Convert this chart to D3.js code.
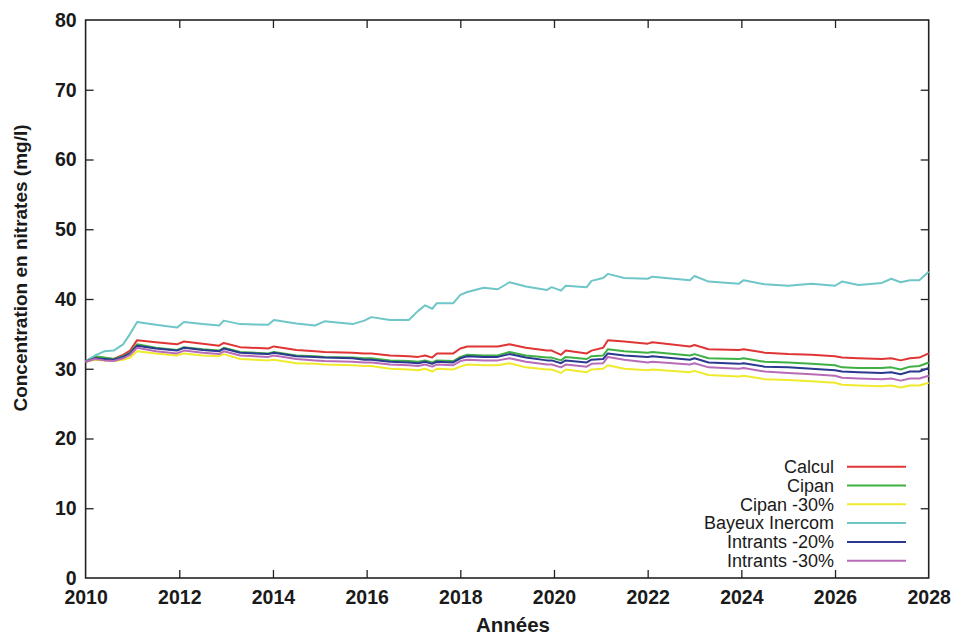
<!DOCTYPE html>
<html><head><meta charset="utf-8">
<script src="https://cdn.jsdelivr.net/npm/d3@7"></script>
<style>body{margin:0;background:#fff;} svg{display:block;}</style>
</head><body>
<script>
const years = [2010.0,2010.2,2010.4,2010.6,2010.8,2010.95,2011.1,2011.5,2011.95,2012.1,2012.5,2012.85,2012.95,2013.3,2013.9,2014.02,2014.5,2014.9,2015.1,2015.7,2015.95,2016.1,2016.5,2016.9,2017.1,2017.25,2017.4,2017.5,2017.85,2018.0,2018.15,2018.5,2018.8,2019.05,2019.4,2019.85,2019.95,2020.15,2020.25,2020.7,2020.8,2021.05,2021.15,2021.5,2022.0,2022.1,2022.9,2023.0,2023.3,2023.95,2024.05,2024.5,2025.0,2025.5,2026.0,2026.15,2026.5,2027.0,2027.2,2027.4,2027.6,2027.8,2028.0];

const calcul = [31.0,31.6,31.5,31.4,32.0,32.6,34.1,33.8,33.5,33.9,33.6,33.3,33.7,33.1,32.9,33.2,32.7,32.5,32.4,32.3,32.2,32.2,31.9,31.8,31.7,31.9,31.6,32.2,32.2,32.9,33.2,33.2,33.2,33.5,33.0,32.6,32.6,32.0,32.6,32.2,32.6,33.0,34.1,33.9,33.6,33.8,33.2,33.4,32.8,32.7,32.8,32.3,32.1,32.0,31.8,31.6,31.5,31.4,31.5,31.2,31.5,31.6,32.2];
const cipan = [31.1,31.8,31.6,31.4,31.8,32.3,33.5,33.0,32.7,33.1,32.8,32.6,33.0,32.4,32.2,32.4,31.9,31.8,31.7,31.6,31.5,31.5,31.2,31.1,31.0,31.2,30.9,31.2,31.1,31.7,32.0,31.9,31.9,32.4,31.9,31.6,31.6,31.2,31.7,31.4,31.8,31.9,32.8,32.5,32.3,32.4,31.9,32.1,31.5,31.4,31.5,31.0,30.9,30.7,30.5,30.2,30.1,30.1,30.2,29.9,30.3,30.4,30.9];
const cipan30 = [31.0,31.3,31.2,31.1,31.3,31.6,32.5,32.2,31.9,32.2,31.9,31.8,32.1,31.4,31.2,31.3,30.8,30.7,30.6,30.5,30.4,30.4,30.0,29.9,29.8,30.0,29.6,30.0,29.9,30.3,30.6,30.5,30.5,30.8,30.2,29.9,29.9,29.4,29.9,29.5,29.9,30.0,30.5,30.0,29.8,29.9,29.5,29.7,29.1,28.9,29.0,28.5,28.4,28.2,28.0,27.7,27.6,27.5,27.6,27.3,27.6,27.6,28.0];
const bayeux = [31.0,31.9,32.5,32.6,33.5,35.0,36.7,36.3,35.9,36.7,36.4,36.2,36.9,36.4,36.3,37.0,36.5,36.2,36.8,36.4,36.9,37.4,37.0,37.0,38.3,39.1,38.6,39.4,39.4,40.6,41.0,41.6,41.4,42.4,41.8,41.3,41.7,41.2,41.9,41.7,42.6,43.0,43.6,43.0,42.9,43.2,42.7,43.3,42.5,42.2,42.7,42.1,41.9,42.2,41.9,42.5,42.0,42.3,42.9,42.4,42.7,42.7,43.9];
const intrants20 = [31.0,31.5,31.4,31.3,31.7,32.2,33.3,32.9,32.6,33.0,32.7,32.5,32.9,32.3,32.1,32.3,31.8,31.7,31.6,31.5,31.3,31.3,31.0,30.9,30.8,31.0,30.7,31.0,30.9,31.5,31.8,31.7,31.7,32.1,31.6,31.2,31.2,30.8,31.2,30.9,31.3,31.4,32.2,31.9,31.7,31.8,31.3,31.5,30.9,30.7,30.8,30.3,30.2,30.0,29.8,29.6,29.5,29.4,29.5,29.2,29.6,29.6,30.1];
const intrants30 = [31.0,31.4,31.2,31.1,31.5,32.0,33.0,32.5,32.2,32.6,32.3,32.1,32.5,31.9,31.7,31.9,31.4,31.2,31.1,31.0,30.9,30.9,30.6,30.5,30.4,30.6,30.3,30.6,30.5,31.1,31.3,31.2,31.2,31.5,31.0,30.6,30.6,30.2,30.6,30.3,30.7,30.8,31.7,31.3,30.9,31.0,30.6,30.8,30.2,30.0,30.1,29.6,29.4,29.2,29.0,28.7,28.6,28.5,28.6,28.3,28.6,28.6,29.0];

const seriesNames = ["Calcul","Cipan","Cipan -30%","Bayeux Inercom","Intrants -20%","Intrants -30%"];
const seriesValues = [calcul, cipan, cipan30, bayeux, intrants20, intrants30];
const seriesColors = ["#e03535","#3fb043","#f0ea2c","#6fc6c8","#2b3990","#b86cb8"];
const xTicks = [2010,2012,2014,2016,2018,2020,2022,2024,2026,2028];
const yTicks = [0,10,20,30,40,50,60,70,80];

const W = 962, H = 637;
const m = {left:85.6, right:928.7, top:20, bottom:578};
const svg = d3.select("body").append("svg").attr("width",W).attr("height",H);

const x = d3.scaleLinear().domain([2010,2028]).range([m.left,m.right]);
const y = d3.scaleLinear().domain([0,80]).range([m.bottom,m.top]);

const font = "'Liberation Sans', Arial, sans-serif";
const tickLen = 8;

const gB = svg.append("g").attr("transform",`translate(0,${m.bottom})`)
  .call(d3.axisBottom(x).tickValues(xTicks).tickFormat(d3.format("d")).tickSizeInner(-tickLen).tickSizeOuter(0));
const gT = svg.append("g").attr("transform",`translate(0,${m.top})`)
  .call(d3.axisTop(x).tickValues(xTicks).tickFormat("").tickSizeInner(-tickLen).tickSizeOuter(0));
const gL = svg.append("g").attr("transform",`translate(${m.left},0)`)
  .call(d3.axisLeft(y).tickValues(yTicks).tickSizeInner(-tickLen).tickSizeOuter(0).tickPadding(9));
const gR = svg.append("g").attr("transform",`translate(${m.right},0)`)
  .call(d3.axisRight(y).tickValues(yTicks).tickFormat("").tickSizeInner(-tickLen).tickSizeOuter(0));

[gB,gT,gL,gR].forEach(g=>{
  g.select(".domain").remove();
  g.selectAll(".tick line").attr("stroke","#222").attr("stroke-width",1.3);
  g.selectAll("text").attr("font-family",font).attr("font-weight","bold").attr("font-size",19.5).attr("fill","#1a1a1a");
});
gB.selectAll(".tick").filter(d=>d===2010||d===2028).select("line").remove();
gT.selectAll(".tick").filter(d=>d===2010||d===2028).select("line").remove();
gL.selectAll(".tick").filter(d=>d===0||d===80).select("line").remove();
gR.selectAll(".tick").filter(d=>d===0||d===80).select("line").remove();
gB.selectAll("text").attr("dy","0.71em").attr("y",12);

svg.append("rect").attr("x",m.left).attr("y",m.top).attr("width",m.right-m.left).attr("height",m.bottom-m.top)
  .attr("fill","none").attr("stroke","#222").attr("stroke-width",1.6);

const line = d3.line().x(d=>x(d[0])).y(d=>y(d[1]));
seriesValues.forEach((vals,i)=>{
  svg.append("path").datum(years.map((yr,j)=>[yr,vals[j]]))
    .attr("d",line).attr("fill","none").attr("stroke",seriesColors[i]).attr("stroke-width",2).attr("stroke-linejoin","round");
});

const lg = svg.append("g");
seriesNames.forEach((n,i)=>{
  const yy = 466.7 + i*18.8;
  lg.append("text").attr("x",834).attr("y",yy).attr("dy","0.35em").attr("text-anchor","end")
    .attr("font-family",font).attr("font-size",18).attr("fill","#1a1a1a").text(n);
  lg.append("line").attr("x1",847).attr("x2",906).attr("y1",yy).attr("y2",yy)
    .attr("stroke",seriesColors[i]).attr("stroke-width",2);
});

svg.append("text").attr("x",513).attr("y",632).attr("text-anchor","middle")
  .attr("font-family",font).attr("font-weight","bold").attr("font-size",20.5).attr("fill","#1a1a1a").text("Années");
svg.append("text").attr("transform","translate(27,268) rotate(-90)").attr("text-anchor","middle")
  .attr("font-family",font).attr("font-weight","bold").attr("font-size",19).attr("fill","#1a1a1a").text("Concentration en nitrates (mg/l)");
</script>
</body></html>
